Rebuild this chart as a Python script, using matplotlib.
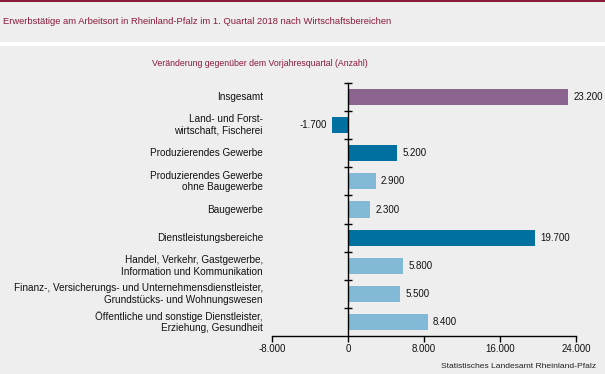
import matplotlib
matplotlib.use("Agg")
import matplotlib.pyplot as plt
from matplotlib.patches import Rectangle
from matplotlib.transforms import blended_transform_factory

categories = [
    "Insgesamt",
    "Land- und Forst-\nwirtschaft, Fischerei",
    "Produzierendes Gewerbe",
    "Produzierendes Gewerbe\nohne Baugewerbe",
    "Baugewerbe",
    "Dienstleistungsbereiche",
    "Handel, Verkehr, Gastgewerbe,\nInformation und Kommunikation",
    "Finanz-, Versicherungs- und Unternehmensdienstleister,\nGrundstücks- und Wohnungswesen",
    "Öffentliche und sonstige Dienstleister,\nErziehung, Gesundheit",
]
values = [23200, -1700, 5200, 2900, 2300, 19700, 5800, 5500, 8400]
levels = ["total", "main", "main", "sub", "sub", "main", "sub", "sub", "sub"]
xticks = [-8000, 0, 8000, 16000, 24000]

colors = {"total": "#8B6590", "main": "#0070A0", "sub": "#82B9D6"}
bg = "#EDEEED"
red = "#8B1A3A"
font = "Liberation Sans"

def fmt(v):
    s = f"{abs(v):,}".replace(",", ".")
    return ("-" if v < 0 else "") + s

W, H = 605, 374
fig = plt.figure(figsize=(W / 100, H / 100), dpi=100)
fig.patch.set_facecolor(bg)

# top red line and white separator strip
fig.add_artist(Rectangle((0, 1 - 2 / H), 1, 2 / H, transform=fig.transFigure, color=red, lw=0))
fig.add_artist(Rectangle((0, 1 - 46 / H), 1, 4 / H, transform=fig.transFigure, color="white", lw=0))

fig.text(3 / W, 1 - 21 / H, "Erwerbstätige am Arbeitsort in Rheinland-Pfalz im 1. Quartal 2018 nach Wirtschaftsbereichen",
         color=red, fontsize=6.75, family=font, va="center", ha="left")
fig.text(260 / W, 1 - 63 / H, "Veränderung gegenüber dem Vorjahresquartal (Anzahl)",
         color=red, fontsize=6.3, family=font, va="center", ha="center")
fig.text(596 / W, 1 - 367 / H, "Statistisches Landesamt Rheinland-Pfalz",
         color="#222222", fontsize=6.1, family=font, va="center", ha="right")

ax = fig.add_axes([272 / W, 1 - 336 / H, (576 - 272) / W, (336 - 83) / H])
ax.set_facecolor(bg)
ys = list(range(len(categories)))
ax.barh(ys, values, height=0.57, color=[colors[l] for l in levels], zorder=2)
ax.set_xlim(-8000, 24000)
ax.set_ylim(len(categories) - 0.5, -0.5)

for y, v in zip(ys, values):
    if v >= 0:
        ax.annotate(fmt(v), (v, y), xytext=(3.8, 0), textcoords="offset points",
                    ha="left", va="center", fontsize=7, family=font, color="#111111")
    else:
        ax.annotate(fmt(v), (v, y), xytext=(-3.8, 0), textcoords="offset points",
                    ha="right", va="center", fontsize=7, family=font, color="#111111")

trans = blended_transform_factory(fig.transFigure, ax.transData)
for y, c in zip(ys, categories):
    fig.text(263 / W, y, c, transform=trans, ha="right", va="center", fontsize=7.2,
             family=font, color="#111111", linespacing=1.2, multialignment="right")

for s in ["top", "right"]:
    ax.spines[s].set_visible(False)
ax.spines["left"].set_position(("data", 0))
ax.spines["left"].set_linewidth(1.0)
ax.spines["bottom"].set_linewidth(1.0)
ax.set_yticks([i - 0.5 for i in range(len(categories))])
ax.set_yticklabels([])
ax.tick_params(axis="y", direction="inout", length=6, width=1)
ax.set_xticks(xticks)
ax.set_xticklabels([fmt(v) for v in xticks], fontsize=7, family=font, color="#111111")
ax.tick_params(axis="x", direction="out", length=4, width=1, pad=2)

fig.savefig("out.png", dpi=100, facecolor=bg)
